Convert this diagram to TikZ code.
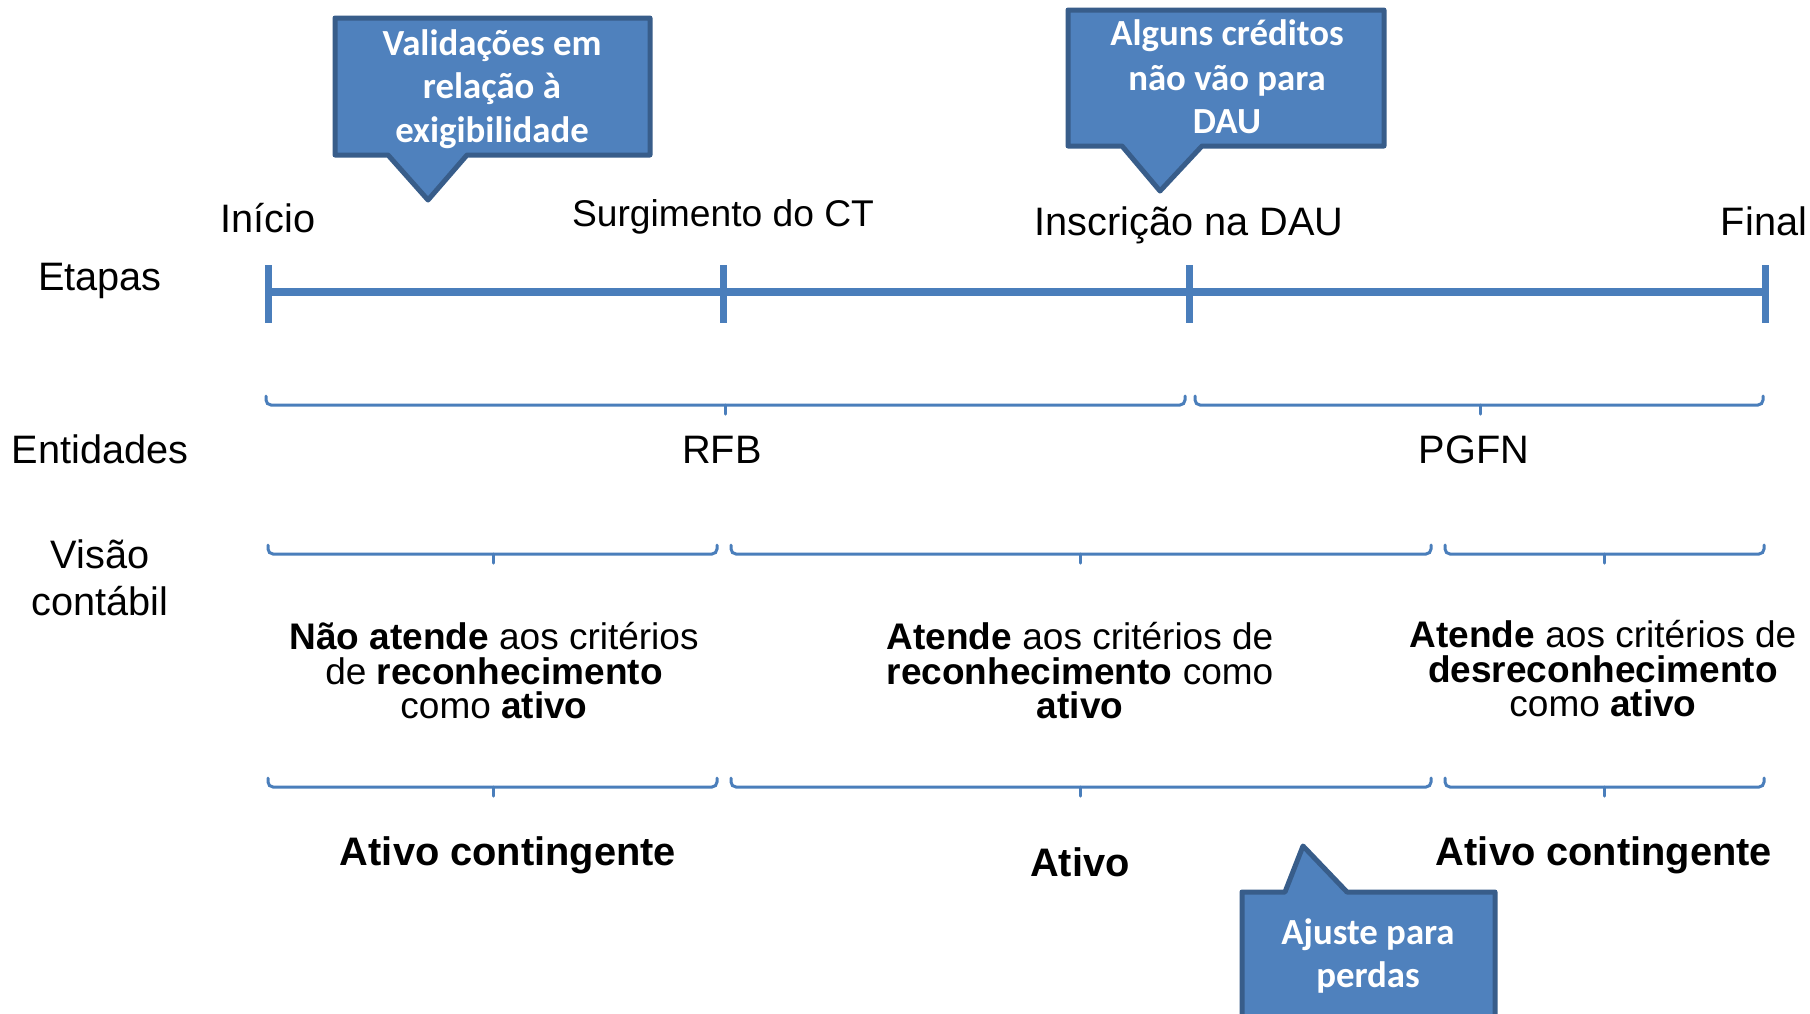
\documentclass[tikz,border=0pt]{standalone}
\usepackage{fontspec}
\setmainfont{Liberation Sans}
\newfontfamily\calibri{Carlito}
\definecolor{lineblue}{HTML}{4A7EBB}
\definecolor{calfill}{HTML}{4F81BD}
\definecolor{caledge}{HTML}{385D8A}
\newcommand\mybrace[4]{%
  \draw[brc] (#1,#4-9) -- (#1,#4) -- (#2,#4) -- (#2,#4-9);
  \draw[brc] (#3,#4) -- (#3,#4+9);}
\begin{document}
\begin{tikzpicture}[x=1pt,y=-1pt,
  lbl/.style={inner sep=0pt,anchor=base,font=\fontsize{39.7}{47}\selectfont},
  blk/.style={inner sep=0pt,anchor=base,font=\fontsize{37}{35}\selectfont},
  res/.style={inner sep=0pt,anchor=base,font=\fontsize{39.8}{47}\selectfont\bfseries},
  calt/.style={inner sep=0pt,anchor=base,text=white,font=\fontsize{36.8}{43}\calibri\bfseries},
  callout/.style={fill=calfill,draw=caledge,line width=5pt,line join=round},
  tline/.style={draw=lineblue,line width=8pt},
  tick/.style={draw=lineblue,line width=7pt},
  brc/.style={draw=lineblue,line width=3pt,rounded corners=5pt,line cap=round}]
\clip (0,0) rectangle (1810,1013);
\fill[white] (0,0) rectangle (1810,1013);

% row labels
\node[lbl] (etapas) at (100,290) {Etapas};
\node[lbl] (entidades) at (100,463) {Entidades};
\node[lbl] (visao1) at (100,568) {Visão};
\node[lbl] (visao2) at (100,615) {contábil};

% timeline
\coordinate (t1) at (268,292);
\coordinate (t2) at (723,292);
\coordinate (t3) at (1189,292);
\coordinate (t4) at (1765,292);
\draw[tline] (t1) -- (t4);
\draw[tick] (268,265) -- (268,323);
\draw[tick] (723,265) -- (723,323);
\draw[tick] (1189,265) -- (1189,323);
\draw[tick] (1765,265) -- (1765,323);
\node[lbl] (inicio) at (268,232) {Início};
\node[lbl,font=\fontsize{37.2}{45}\selectfont] (surg) at (723,226) {Surgimento do CT};
\node[lbl] (inscr) at (1189,235) {Inscrição na DAU};
\node[lbl] (final) at (1764,235) {Final};

% entidades braces
\mybrace{266}{1185}{725}{405}
\mybrace{1195}{1763}{1480}{405}
\node[lbl] (rfb) at (722,463) {RFB};
\node[lbl] (pgfn) at (1474,463) {PGFN};

% visao contabil braces
\mybrace{268}{717}{493}{554}
\mybrace{731}{1431}{1080}{554}
\mybrace{1445}{1764}{1604}{554}

\node[blk] (a1) at (494,649) {\textbf{Não atende} aos critérios};
\node[blk] (a2) at (494,684) {de \textbf{reconhecimento}};
\node[blk] (a3) at (494,718) {como \textbf{ativo}};
\node[blk] (b1) at (1080,649) {\textbf{Atende} aos critérios de};
\node[blk] (b2) at (1080,684) {\textbf{reconhecimento} como};
\node[blk] (b3) at (1080,718) {\textbf{ativo}};
\node[blk] (c1) at (1603,647) {\textbf{Atende} aos critérios de};
\node[blk] (c2) at (1603,682) {\textbf{desreconhecimento}};
\node[blk] (c3) at (1603,716) {como \textbf{ativo}};

% result braces
\mybrace{268}{717}{493}{787}
\mybrace{731}{1431}{1080}{787}
\mybrace{1445}{1764}{1604}{787}

\node[res] (r1) at (508,865) {Ativo contingente};
\node[res] (r2) at (1080,876) {Ativo};
\node[res] (r3) at (1604,865) {Ativo contingente};

% callouts
\draw[callout] (335,18) -- (650,18) -- (650,155) -- (467,155) -- (428,200) -- (388,155) -- (335,155) -- cycle;
\node[calt] (k1a) at (492,55) {Validações em};
\node[calt] (k1b) at (492,98) {relação à};
\node[calt] (k1c) at (492,142) {exigibilidade};

\draw[callout] (1068,10) -- (1384,10) -- (1384,146) -- (1202,146) -- (1160,191) -- (1122,146) -- (1068,146) -- cycle;
\node[calt] (k2a) at (1227,45) {Alguns créditos};
\node[calt] (k2b) at (1227,90) {não vão para};
\node[calt] (k2c) at (1227,133) {DAU};

\draw[callout] (1242,892) -- (1285,892) -- (1303,846) -- (1347,892) -- (1495,892) -- (1495,1030) -- (1242,1030) -- cycle;
\node[calt] (k3a) at (1368,944) {Ajuste para};
\node[calt] (k3b) at (1368,987) {perdas};
\end{tikzpicture}
\end{document}
